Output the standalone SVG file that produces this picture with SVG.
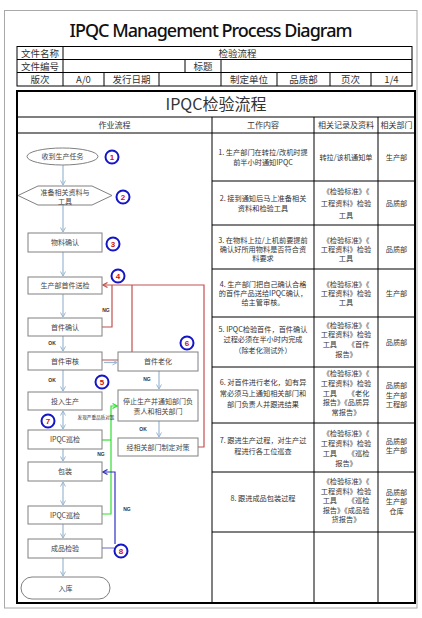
<svg xmlns="http://www.w3.org/2000/svg" width="422" height="618" viewBox="0 0 422 618">
<style>
.cj{font-family:"Noto Sans CJK SC","Noto Sans",sans-serif;fill:#333}
.h{font-size:9.5px;text-anchor:middle}
.th{font-size:8px;text-anchor:middle}
.td{font-size:7.2px;text-anchor:middle}
.fb{font-size:7px;text-anchor:middle;fill:#444}
.lbl{font-family:"Liberation Sans",sans-serif;font-size:5px;font-weight:bold;text-anchor:middle;fill:#333}
.box{fill:#fff;stroke:#808080;stroke-width:1}
.grid{stroke:#000;stroke-width:1;fill:none}
.num{stroke:#1515c8;stroke-width:2;fill:#fff}
.nt{font-family:"Liberation Sans",sans-serif;font-size:8px;font-weight:bold;fill:#d01010;text-anchor:middle}
.ar{stroke:#9ab7d3;stroke-width:1.2;fill:none}
.red{stroke:#c0504d;stroke-width:1.2;fill:none}
.grn{stroke:#30e030;stroke-width:1.2;fill:none}
.blu{stroke:#3030c0;stroke-width:1.2;fill:none}
</style>
<defs>
<marker id="ma" markerWidth="6" markerHeight="6" refX="5" refY="3" orient="auto" markerUnits="userSpaceOnUse"><path d="M0.5,0.5 L5,3 L0.5,5.5" fill="none" stroke="#9ab7d3" stroke-width="1"/></marker>
<marker id="ms" markerWidth="6" markerHeight="6" refX="1" refY="3" orient="auto" markerUnits="userSpaceOnUse"><path d="M5.5,0.5 L1,3 L5.5,5.5" fill="none" stroke="#9ab7d3" stroke-width="1"/></marker>
<marker id="mr" markerWidth="6" markerHeight="6" refX="5" refY="3" orient="auto" markerUnits="userSpaceOnUse"><path d="M0.5,0.5 L5,3 L0.5,5.5" fill="none" stroke="#c0504d" stroke-width="1.2"/></marker>
<marker id="mg" markerWidth="6" markerHeight="6" refX="5" refY="3" orient="auto" markerUnits="userSpaceOnUse"><path d="M0.5,0.5 L5,3 L0.5,5.5" fill="none" stroke="#30e030" stroke-width="1.2"/></marker>
<marker id="mb" markerWidth="6" markerHeight="6" refX="5" refY="3" orient="auto" markerUnits="userSpaceOnUse"><path d="M0.5,0.5 L5,3 L0.5,5.5" fill="none" stroke="#3030c0" stroke-width="1.2"/></marker>
</defs>
<rect width="422" height="618" fill="#fff"/>
<rect x="4.5" y="10.5" width="412.5" height="597.5" fill="none" stroke="#a8a8a8" stroke-width="1"/>
<text x="211" y="37" font-family="'Noto Sans',sans-serif" font-size="18" font-weight="500" text-anchor="middle" textLength="283" fill="#111">IPQC Management Process Diagram</text>

<g id="header">
<rect x="17" y="46.5" width="395" height="39.5" class="grid"/>
<path class="grid" d="M17,59.5H412M17,72.5H412M63,46.5V86M185,59.5V72.5M221,59.5V86M104,72.5V86M159,72.5V86M277,72.5V86M330,72.5V86M371,72.5V86"/>
<g class="cj h">
<text x="40" y="56.5">文件名称</text><text x="237.5" y="56.5">检验流程</text>
<text x="40" y="69.5">文件编号</text><text x="203" y="69.5">标题</text>
<text x="40" y="83">版次</text><text x="83.5" y="83">A/0</text><text x="131.5" y="83">发行日期</text>
<text x="249" y="83">制定单位</text><text x="303.5" y="83">品质部</text><text x="350.5" y="83">页次</text><text x="391.5" y="83">1/4</text>
</g>
</g>

<g id="table">
<rect x="17" y="91" width="398" height="512" fill="none" stroke="#000" stroke-width="2"/>
<path class="grid" d="M17,117H415M17,133H415M212,117V603M314,117V603M378,117V603M212,181H415M212,225H415M212,269H415M212,317H415M212,367H415M212,423H415M212,472H415M212,532H415"/>
<text class="cj" x="216" y="110" font-size="16" text-anchor="middle">IPQC检验流程</text>
<g class="cj th">
<text x="114.5" y="128">作业流程</text><text x="263" y="128">工作内容</text><text x="346" y="128">相关记录及资料</text><text x="396.5" y="128">相关部门</text>
</g>
<g class="cj td">
<text x="263" y="155">1. 生产部门在转拉/改机时提</text><text x="263" y="165">前半小时通知IPQC</text>
<text x="346" y="160">转拉/该机通知单</text><text x="396.5" y="160">生产部</text>

<text x="263" y="201">2. 接到通知后马上准备相关</text><text x="263" y="211">资料和检验工具</text>
<text x="346" y="194">《检验标准》《</text><text x="346" y="206">工程资料》检验</text><text x="346" y="218">工具</text>
<text x="396.5" y="206">品质部</text>

<text x="263" y="243">3. 在物料上拉/上机前要提前</text><text x="263" y="252">确认好所用物料是否符合资</text><text x="263" y="261">料要求</text>
<text x="346" y="243">《检验标准》《</text><text x="346" y="252">工程资料》检验</text><text x="346" y="261">工具</text>
<text x="396.5" y="252">品质部</text>

<text x="263" y="287">4. 生产部门把自己确认合格</text><text x="263" y="296">的首件产品送给IPQC确认，</text><text x="263" y="305">给主管审核。</text>
<text x="346" y="287">《检验标准》《</text><text x="346" y="296">工程资料》检验</text><text x="346" y="305">工具</text>
<text x="396.5" y="296">生产部</text>

<text x="263" y="332">5. IPQC检验首件，首件确认</text><text x="263" y="342">过程必须在半小时内完成</text><text x="263" y="353">（除老化测试外）</text>
<text x="346" y="328">《检验标准》《</text><text x="346" y="337">工程资料》检验</text><text x="346" y="347">工具　　《首件</text><text x="346" y="357">报告》</text>
<text x="396.5" y="345">品质部</text>

<text x="263" y="385">6. 对首件进行老化，如有异</text><text x="263" y="396">常必须马上通知相关部门和</text><text x="263" y="407">部门负责人并跟进结果</text>
<text x="346" y="376">《检验标准》《</text><text x="346" y="386">工程资料》检验</text><text x="346" y="396">工具　　《老化</text><text x="346" y="405">报告》《品质异</text><text x="346" y="415">常报告》</text>
<text x="396.5" y="388">品质部</text><text x="396.5" y="397.5">生产部</text><text x="396.5" y="407">工程部</text>

<text x="263" y="443">7. 跟进生产过程，对生产过</text><text x="263" y="454">程进行各工位巡查</text>
<text x="346" y="436">《检验标准》《</text><text x="346" y="446">工程资料》检验</text><text x="346" y="456">工具　　《巡检</text><text x="346" y="466">报告》</text>
<text x="396.5" y="444">品质部</text><text x="396.5" y="453">生产部</text>

<text x="263" y="501">8. 跟进成品包装过程</text>
<text x="346" y="484">《检验标准》《</text><text x="346" y="494">工程资料》检验</text><text x="346" y="503">工具　　《巡检</text><text x="346" y="513">报告》《成品验</text><text x="346" y="522">货报告》</text>
<text x="396.5" y="495">品质部</text><text x="396.5" y="504">生产部</text><text x="396.5" y="514">仓库</text>
</g>
</g>

<g id="connectors">
<path class="ar" d="M63,165V185" marker-end="url(#ma)"/>
<path class="ar" d="M63,205V232" marker-end="url(#ma)"/>
<path class="ar" d="M63,252V276" marker-end="url(#ma)"/>
<path class="ar" d="M63,294V317" marker-end="url(#ma)"/>
<path class="ar" d="M63,336V351" marker-end="url(#ma)"/>
<path class="ar" d="M63,370V391" marker-end="url(#ma)"/>
<path class="ar" d="M63,411V429" marker-start="url(#ms)" marker-end="url(#ma)" />
<path class="ar" d="M63,449V461" marker-end="url(#ma)"/>
<path class="ar" d="M63,482V505" marker-start="url(#ms)" marker-end="url(#ma)"/>
<path class="ar" d="M63,524V538" marker-end="url(#ma)"/>
<path class="ar" d="M63,558V576" marker-end="url(#ma)"/>
<path class="ar" d="M159,371V389" marker-end="url(#ma)"/>
<path class="ar" d="M159,421V437" marker-end="url(#ma)"/>
<path class="red" d="M102,327H112V285"/>
<path class="red" d="M102,360H132V285"/>
<path class="red" d="M198,447H204V285H103" marker-end="url(#mr)"/>
<path class="ar" d="M104,362.5H117" marker-end="url(#ma)"/>
<path class="grn" d="M102,440H111"/>
<path class="grn" d="M102,514H111V406H117" marker-end="url(#mg)"/>
<path class="blu" d="M115,544V472H103" marker-end="url(#mb)"/>
<path d="M102,548H114" stroke="#8080d8" stroke-width="1.2" fill="none"/>
<text class="lbl" x="106" y="312">NG</text>
<text class="lbl" x="52" y="345">OK</text>
<text class="lbl" x="52" y="382">OK</text>
<text class="lbl" x="147" y="381">NG</text>
<text class="lbl" x="143" y="431">OK</text>
<text class="lbl" x="101" y="456">NG</text>
<text class="lbl" x="127" y="511">NG</text>
<text class="cj" x="96" y="419" font-size="4.6" text-anchor="middle" fill="#555">发现严重品质对策</text>
</g>

<g id="n1"><ellipse cx="62.5" cy="156.5" rx="35.5" ry="8.5" class="box"/><text class="cj fb" x="62.5" y="159">收到生产任务</text></g>
<g id="n2"><polygon points="18,195.5 38,186 92,186 112,195.5 92,205 38,205" class="box"/><text class="cj fb" x="65" y="194.5">准备相关资料与</text><text class="cj fb" x="65" y="203.5">工具</text></g>
<g id="n3"><rect x="28" y="233" width="74" height="19" class="box"/><text class="cj fb" x="65" y="245">物料确认</text></g>
<g id="n4"><rect x="28" y="277" width="74" height="17" class="box"/><text class="cj fb" x="65" y="288">生产部首件送检</text></g>
<g id="n5"><rect x="28" y="318" width="74" height="18" class="box"/><text class="cj fb" x="65" y="329.5">首件确认</text></g>
<g id="n6"><rect x="28" y="352" width="74" height="18" class="box"/><text class="cj fb" x="65" y="363.5">首件审核</text></g>
<g id="n7"><rect x="118" y="352" width="80" height="19" class="box"/><text class="cj fb" x="158" y="364">首件老化</text></g>
<g id="n8"><rect x="118" y="390" width="80" height="31" class="box"/><text class="cj fb" x="158" y="404">停止生产并通知部门负</text><text class="cj fb" x="158" y="413.5">责人和相关部门</text></g>
<g id="n9"><rect x="118" y="438" width="80" height="18" class="box"/><text class="cj fb" x="158" y="449.5">经相关部门制定对策</text></g>
<g id="n10"><rect x="28" y="392" width="74" height="18" class="box"/><text class="cj fb" x="65" y="403.5">投入生产</text></g>
<g id="n11"><rect x="28" y="430" width="74" height="19" class="box"/><text class="cj fb" x="65" y="442">IPQC巡检</text></g>
<g id="n12"><rect x="28" y="462" width="74" height="19" class="box"/><text class="cj fb" x="65" y="474">包装</text></g>
<g id="n13"><rect x="28" y="506" width="74" height="18" class="box"/><text class="cj fb" x="65" y="517.5">IPQC巡检</text></g>
<g id="n14"><rect x="28" y="539" width="74" height="19" class="box"/><text class="cj fb" x="65" y="551">成品检验</text></g>
<g id="n15"><rect x="21" y="577" width="89" height="22" rx="11" class="box"/><text class="cj fb" x="65.5" y="590.5">入库</text></g>

<g id="c1"><circle cx="112" cy="157" r="6.5" class="num"/><text class="nt" x="112" y="160">1</text></g>
<g id="c2"><circle cx="123" cy="197" r="6.5" class="num"/><text class="nt" x="123" y="200">2</text></g>
<g id="c3"><circle cx="113" cy="244" r="6.5" class="num"/><text class="nt" x="113" y="247">3</text></g>
<g id="c4"><circle cx="118" cy="276" r="6.5" class="num"/><text class="nt" x="118" y="279">4</text></g>
<g id="c5"><circle cx="102" cy="382" r="6.5" class="num"/><text class="nt" x="102" y="385">5</text></g>
<g id="c6"><circle cx="187" cy="343" r="6.5" class="num"/><text class="nt" x="187" y="346">6</text></g>
<g id="c7"><circle cx="48" cy="421" r="6.5" class="num"/><text class="nt" x="48" y="424">7</text></g>
<g id="c8"><circle cx="121" cy="551" r="6.5" class="num"/><text class="nt" x="121" y="554">8</text></g>
</svg>
